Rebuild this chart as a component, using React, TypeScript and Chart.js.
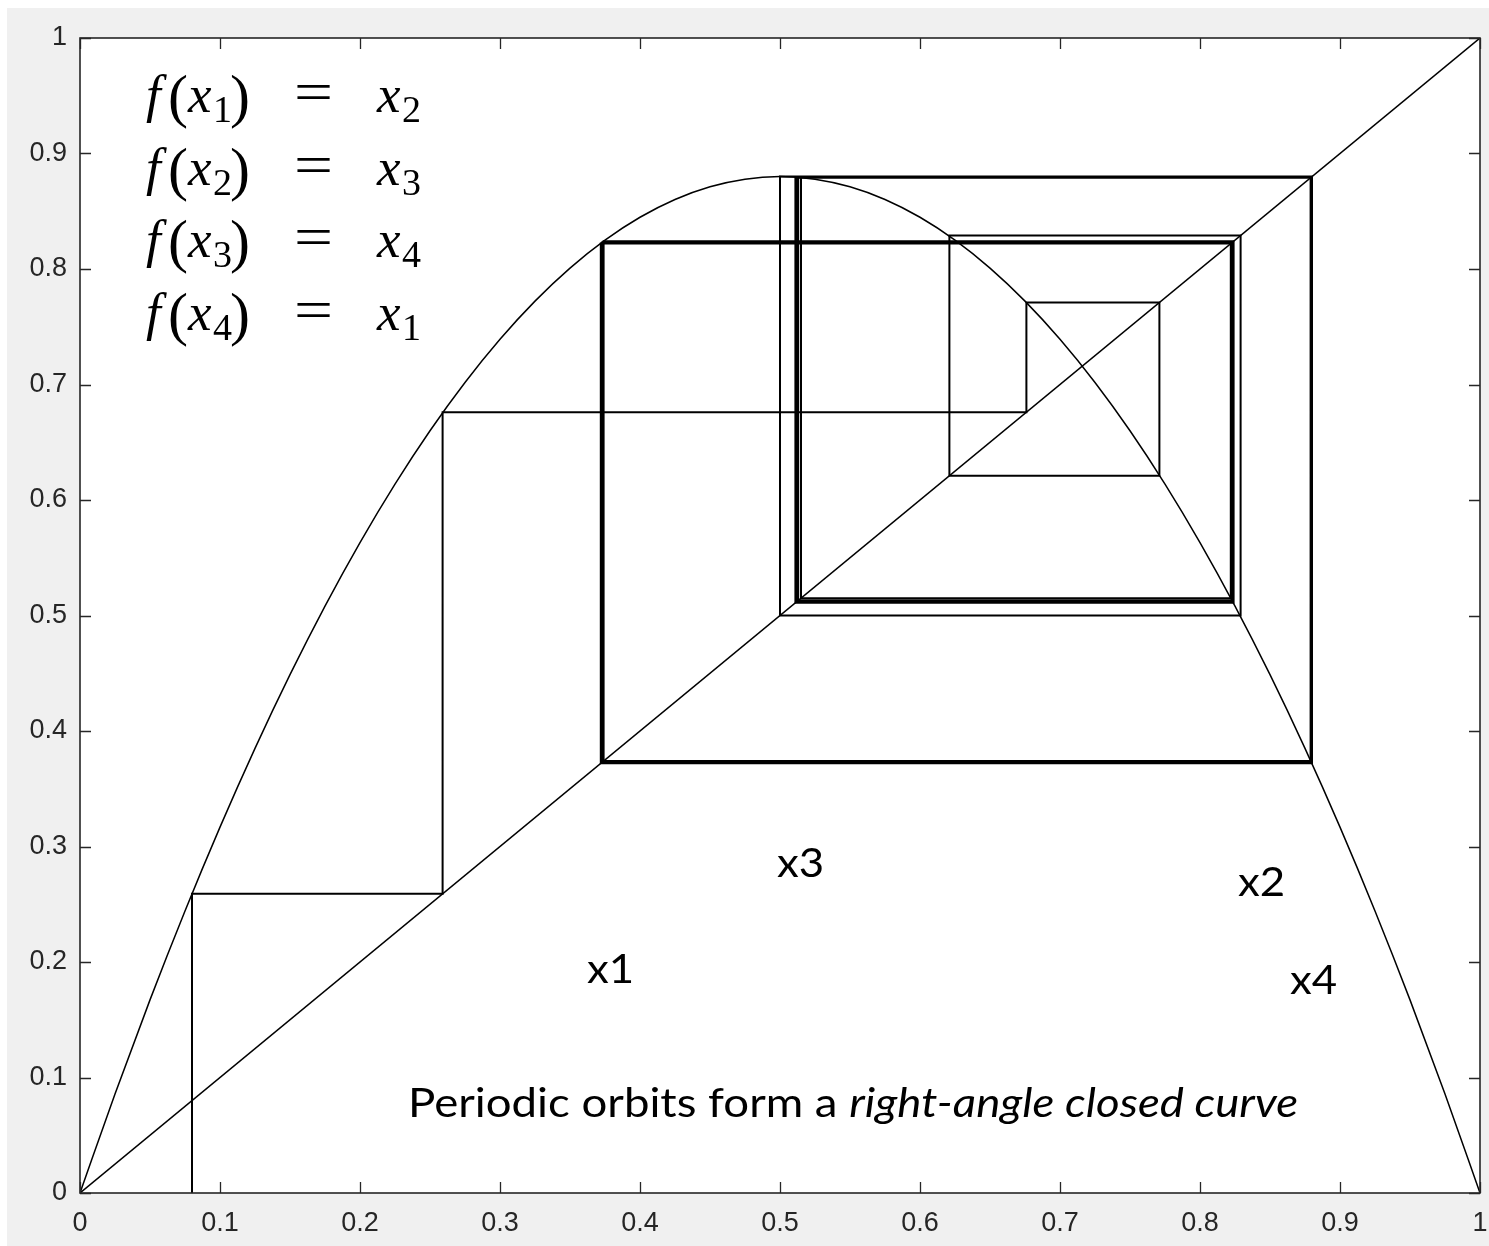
import { useEffect, useRef } from "react";
import { Chart, registerables } from "chart.js";

Chart.register(...registerables);

// Logistic-map parabola f(x), sampled every 0.025
const curveX = [
  0, 0.025, 0.05, 0.075, 0.1, 0.125, 0.15, 0.175, 0.2, 0.225, 0.25, 0.275, 0.3, 0.325, 0.35, 0.375, 0.4,
  0.425, 0.45, 0.475, 0.5, 0.525, 0.55, 0.575, 0.6, 0.625, 0.65, 0.675, 0.7, 0.725, 0.75, 0.775, 0.8,
  0.825, 0.85, 0.875, 0.9, 0.925, 0.95, 0.975, 1,
];
const curveY = [
  0, 0.0858, 0.1672, 0.2442, 0.3168, 0.385, 0.4488, 0.5082, 0.5632, 0.6138, 0.66, 0.7018, 0.7392, 0.7722,
  0.8008, 0.825, 0.8448, 0.8602, 0.8712, 0.8778, 0.88, 0.8778, 0.8712, 0.8602, 0.8448, 0.825, 0.8008,
  0.7722, 0.7392, 0.7018, 0.66, 0.6138, 0.5632, 0.5082, 0.4488, 0.385, 0.3168, 0.2442, 0.1672, 0.0858, 0,
];

// Identity line y = x
const diagX = [0, 1];
const diagY = [0, 1];

// Successive iterates x0, x1, x2, ... of the cobweb, settling onto the 4-cycle
const iterates = [
  0.08, 0.259, 0.676, 0.771, 0.621, 0.829, 0.5, 0.88, 0.372, 0.822, 0.515, 0.879, 0.374, 0.824, 0.511,
  0.88, 0.373, 0.823, 0.513, 0.879, 0.373, 0.823, 0.512, 0.88, 0.373, 0.823, 0.512, 0.879, 0.373, 0.823,
  0.512, 0.88,
];

// Tick values on both axes
const tickValues = [0, 0.1, 0.2, 0.3, 0.4, 0.5, 0.6, 0.7, 0.8, 0.9, 1];

// Equation rows: f(x_a) = x_b
const eqLhs = ["1", "2", "3", "4"];
const eqRhs = ["2", "3", "4", "1"];

// Orbit point names
const pointNames = ["x1", "x2", "x3", "x4"];
const captionPlain = "Periodic orbits form a ";
const captionItalic = "right-angle closed curve";

const fmtTick = (v: number) => String(Number(Number(v).toFixed(1)));

function cobwebPath() {
  const pts: { x: number; y: number }[] = [{ x: iterates[0], y: 0 }];
  for (let i = 0; i < iterates.length - 1; i++) {
    pts.push({ x: iterates[i], y: iterates[i + 1] });
    pts.push({ x: iterates[i + 1], y: iterates[i + 1] });
  }
  return pts;
}

const frame = {
  id: "frame",
  beforeDraw(chart: any) {
    const { ctx, width, height, chartArea: a } = chart;
    ctx.save();
    ctx.fillStyle = "#ffffff";
    ctx.fillRect(0, 0, width, height);
    ctx.fillStyle = "#f0f0f0";
    ctx.fillRect(7, 8, width - 7, height - 8);
    ctx.fillStyle = "#ffffff";
    ctx.fillRect(a.left, a.top, a.right - a.left, a.bottom - a.top);
    ctx.restore();
  },
  afterDatasetsDraw(chart: any) {
    const { ctx, chartArea: a, scales } = chart;
    const xs = scales.x;
    const ys = scales.y;
    const tick = 11;
    ctx.save();
    ctx.strokeStyle = "#262626";
    ctx.lineWidth = 1.6;
    ctx.strokeRect(a.left, a.top, a.right - a.left, a.bottom - a.top);
    ctx.lineWidth = 1.3;
    ctx.beginPath();
    tickValues.forEach((v) => {
      const px = Math.round(xs.getPixelForValue(v)) + 0.5;
      ctx.moveTo(px, a.bottom);
      ctx.lineTo(px, a.bottom - tick);
      ctx.moveTo(px, a.top);
      ctx.lineTo(px, a.top + tick);
      const py = Math.round(ys.getPixelForValue(v)) + 0.5;
      ctx.moveTo(a.left, py);
      ctx.lineTo(a.left + tick, py);
      ctx.moveTo(a.right, py);
      ctx.lineTo(a.right - tick, py);
    });
    ctx.stroke();
    ctx.restore();
  },
  afterDraw(chart: any) {
    const { ctx, scales } = chart;
    const xs = scales.x;
    const ys = scales.y;
    const X = (v: number) => xs.getPixelForValue(v);
    const Y = (v: number) => ys.getPixelForValue(v);
    ctx.save();
    ctx.fillStyle = "#000000";
    ctx.textBaseline = "alphabetic";
    ctx.textAlign = "left";

    // Equation block in serif math style
    const serif = '"Liberation Serif", "Times New Roman", serif';
    const left = X(0.0443);
    const base0 = Y(0.9359);
    const rowStep = Y(0) - Y(0.0629);
    eqLhs.forEach((a, i) => {
      const by = base0 + i * rowStep;
      ctx.font = `italic 53px ${serif}`;
      ctx.fillText("f", left + 4, by);
      ctx.font = `60px ${serif}`;
      ctx.fillText("(", left + 26, by + 4);
      ctx.font = `italic 53px ${serif}`;
      ctx.fillText("x", left + 46, by);
      ctx.font = `38px ${serif}`;
      ctx.fillText(a, left + 71, by + 10);
      ctx.font = `60px ${serif}`;
      ctx.fillText(")", left + 88, by + 4);
      // equals sign stretched to its full width
      ctx.font = `56px ${serif}`;
      const ew = ctx.measureText("=").width;
      ctx.save();
      ctx.translate(left + 152, by - 1);
      ctx.scale(39 / ew, 1);
      ctx.fillText("=", 0, 0);
      ctx.restore();
      ctx.font = `italic 53px ${serif}`;
      ctx.fillText("x", left + 235, by);
      ctx.font = `38px ${serif}`;
      ctx.fillText(eqRhs[i], left + 260, by + 10);
    });

    // Sans-serif annotations
    const sans = 'Lato, "Open Sans", sans-serif';
    ctx.font = `41px ${sans}`;
    const w1 = ctx.measureText(captionPlain).width;
    ctx.font = `italic 41px ${sans}`;
    const w2 = ctx.measureText(captionItalic).width;
    const capLeft = X(0.2343);
    const capRight = X(0.87);
    const sx = (capRight - capLeft) / (w1 + w2);

    ctx.save();
    ctx.translate(capLeft, Y(0.0658));
    ctx.scale(sx, 1);
    ctx.font = `41px ${sans}`;
    ctx.fillText(captionPlain, 0, 0);
    ctx.font = `italic 41px ${sans}`;
    ctx.fillText(captionItalic, w1, 0);
    ctx.restore();

    const labelAt: Record<string, [number, number]> = {
      x1: [0.3621, 0.1818],
      x2: [0.8271, 0.2575],
      x3: [0.4979, 0.2736],
      x4: [0.8643, 0.1723],
    };
    pointNames.forEach((name) => {
      const [vx, vy] = labelAt[name];
      ctx.save();
      ctx.translate(X(vx), Y(vy));
      ctx.scale(sx * 0.96, 1);
      ctx.font = `41px ${sans}`;
      ctx.fillText(name, 0, 0);
      ctx.restore();
    });
    ctx.restore();
  },
};

export default function App() {
  const ref = useRef<HTMLCanvasElement | null>(null);

  useEffect(() => {
    document.body.style.margin = "0";
    const canvas = ref.current;
    if (!canvas) return;
    const tickFont = { family: '"Liberation Sans", Arial, sans-serif', size: 27 };
    const chart = new Chart(canvas, {
      type: "scatter",
      data: {
        datasets: [
          {
            data: curveX.map((x, i) => ({ x, y: curveY[i] })),
            showLine: true,
            borderColor: "#000000",
            borderWidth: 1.5,
            pointRadius: 0,
            cubicInterpolationMode: "monotone",
          },
          {
            data: diagX.map((x, i) => ({ x, y: diagY[i] })),
            showLine: true,
            borderColor: "#000000",
            borderWidth: 1.5,
            pointRadius: 0,
          },
          {
            data: cobwebPath(),
            showLine: true,
            borderColor: "#000000",
            borderWidth: 2,
            pointRadius: 0,
            tension: 0,
          },
        ],
      },
      options: {
        animation: false,
        responsive: false,
        devicePixelRatio: 1,
        layout: { padding: { left: 0, top: 38, right: 9, bottom: 0 } },
        plugins: { legend: { display: false }, tooltip: { enabled: false } },
        scales: {
          x: {
            type: "linear",
            min: 0,
            max: 1,
            grid: { display: false, drawTicks: false },
            border: { display: false },
            ticks: {
              stepSize: 0.1,
              autoSkip: false,
              maxRotation: 0,
              padding: 14,
              color: "#262626",
              font: tickFont,
              callback: (v: any) => fmtTick(v),
            },
            afterFit: (s: any) => {
              s.height = 53;
              s.paddingLeft = 0;
              s.paddingRight = 0;
            },
          },
          y: {
            type: "linear",
            min: 0,
            max: 1,
            grid: { display: false, drawTicks: false },
            border: { display: false },
            ticks: {
              stepSize: 0.1,
              autoSkip: false,
              padding: 13,
              color: "#262626",
              font: tickFont,
              callback: (v: any) => fmtTick(v),
            },
            afterFit: (s: any) => {
              s.width = 80;
              s.paddingTop = 0;
              s.paddingBottom = 0;
            },
          },
        },
      },
      plugins: [frame],
    } as any);
    return () => chart.destroy();
  }, []);

  return <canvas ref={ref} width={1489} height={1246} style={{ display: "block" }} />;
}
